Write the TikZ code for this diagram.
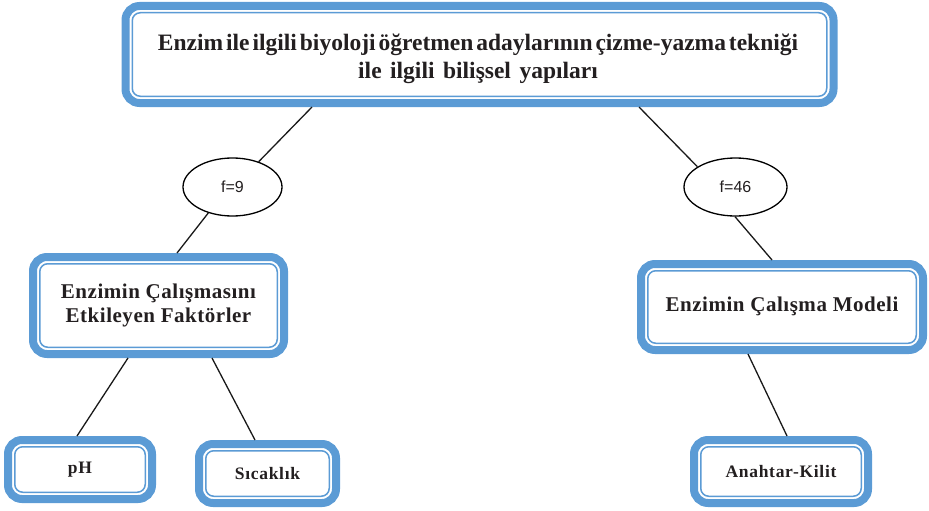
\documentclass[tikz,border=0pt]{standalone}
\usepackage{fontspec}
\setmainfont{Liberation Serif}
\newfontfamily\ellfont{Liberation Sans}
\newfontfamily\topfont[WordSpace=0.5]{Liberation Serif}
\newfontfamily\spacedfont[LetterSpace=2.5]{Liberation Serif}
\newfontfamily\smallspaced[LetterSpace=4]{Liberation Serif}
\usetikzlibrary{shapes.geometric}
\definecolor{boxblue}{RGB}{91,155,213}
\definecolor{txt}{RGB}{35,31,32}
\begin{document}
\begin{tikzpicture}[x=1pt,y=1pt,
  bluebox/.style={draw=boxblue, line width=8pt, rounded corners=14pt, fill=white, text=txt, align=center, inner sep=0pt,
    path picture={\draw[boxblue, line width=1.5pt, rounded corners=8pt]
      ([shift={(6.75pt,6.75pt)}]path picture bounding box.south west) rectangle
      ([shift={(-6.75pt,-6.75pt)}]path picture bounding box.north east);}},
  freq/.style={ellipse, draw=black, line width=1.3pt, fill=white, inner sep=0pt, text=txt,
    font=\ellfont\fontsize{16}{19}\selectfont},
  boxtext/.style={text=txt, align=center, inner sep=0pt},
  conn/.style={draw=black!90, line width=1.3pt}
]
\useasboundingbox (0,0) rectangle (929,-511);

\node[bluebox, minimum width=708pt, minimum height=97pt] (top) at (479.5,-54.5) {};
\node[boxtext, font=\topfont\fontsize{23.5}{28}\selectfont\bfseries] (toptext) at (478,-59)
  {Enzim ile ilgili biyoloji öğretmen adaylarının çizme-yazma tekniği\\ile\hspace{8.5pt}ilgili\hspace{8.5pt}bilişsel\hspace{8.5pt}yapıları};

\node[freq, minimum width=99pt, minimum height=58pt] (e9) at (232.5,-187) {f=9};
\node[freq, minimum width=103pt, minimum height=58pt] (e46) at (735.5,-187) {f=46};

\node[bluebox, minimum width=251pt, minimum height=97pt,
  font=\spacedfont\fontsize{21}{24}\selectfont\bfseries] (lm) at (158.5,-305.5)
  {Enzimin Çalışmasını\\Etkileyen Faktörler};
\node[bluebox, minimum width=282pt, minimum height=86pt,
  font=\spacedfont\fontsize{21}{24}\selectfont\bfseries] (rm) at (782,-307)
  {\raisebox{6pt}{Enzimin Çalışma Modeli}};

\node[bluebox, minimum width=144pt, minimum height=59pt,
  font=\smallspaced\fontsize{17.5}{21}\selectfont\bfseries] (ph) at (80,-469.5) {pH};
\node[bluebox, minimum width=137pt, minimum height=59pt,
  font=\smallspaced\fontsize{17.5}{21}\selectfont\bfseries] (sic) at (267.5,-473.5) {Sıcaklık};
\node[bluebox, minimum width=174pt, minimum height=63pt,
  font=\smallspaced\fontsize{17.5}{21}\selectfont\bfseries] (ak) at (781,-471.5) {Anahtar-Kilit};

\draw[conn] ([xshift=-167.5pt]top.south) -- (e9.44);
\draw[conn] (e9.227) -- ([xshift=18.5pt]lm.north);
\draw[conn] ([xshift=159.5pt]top.south) -- (e46.152);
\draw[conn] (e46.269) -- ([xshift=-10pt]rm.north);
\draw[conn] ([xshift=-30.5pt]lm.south) -- ([xshift=-3pt]ph.north);
\draw[conn] ([xshift=53.5pt]lm.south) -- ([xshift=-12.5pt]sic.north);
\draw[conn] ([xshift=-34pt]rm.south) -- ([xshift=6pt]ak.north);
\end{tikzpicture}
\end{document}
